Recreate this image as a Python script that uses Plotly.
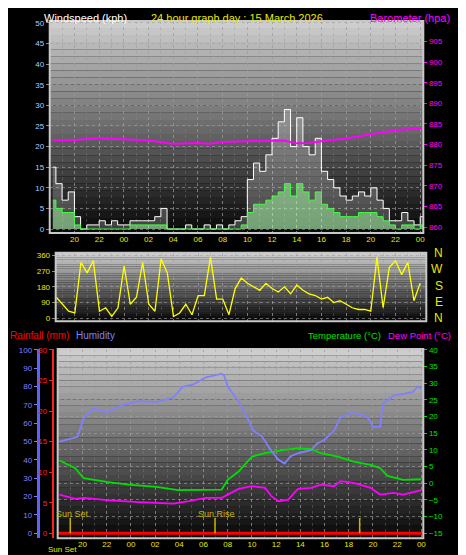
import plotly.graph_objects as go

# ---------------- data ----------------
wind_t = [18.25,18.5,19,19.5,20,20.5,21,21.5,22,22.5,23,23.5,24,24.5,25,25.5,26,26.5,27,27.5,28,28.5,29,29.5,30,30.5,31,31.5,32,32.5,33,33.5,34,34.5,35,35.5,36,36.5,37,37.5,38,38.5,39,39.5,40,40.5,41,41.5,42,42.5,43,43.5,44,44.5,45,45.5,46,46.5,47,47.5,48,48.25]
gust = [15,11,7,9,3,0,1,1,2,1,2,1,1,2,2,2,2,3,5,0,0,0,1,0,0,1,0,1,0,1,2,3,12,16,14,18,22,26,29,20,27,20,18,22,14,12,10,8,7,8,9,8,10,7,5,2,2,4,2,1,3,3]
avg = [7,5,4,4,1,0,0,0,0,0,0,0,0,1,1,1,1,1,1,0,0,0,0,0,0,0,0,0,0,0,0,1,4,6,6,7,8,9,11,8,11,9,7,9,6,5,4,3,3,3,4,4,4,3,2,1,0,1,1,0,1,1]
baro_t = [18.25,20,22,24,26,28,30,31,32,34,36,37,38,39,40,42,44,46,48,48.25]
baro = [881,881.1,881.6,881.3,881,880.2,880.4,880.2,880.6,880.8,880.9,881,880.3,880.4,880.8,881.5,882.5,883.5,884,884]
dir_t = [18.5,19,19.5,20,20.5,21,21.5,22,22.5,23,23.5,24,24.5,25,25.5,26,26.5,27,27.5,28,28.5,29,29.5,30,30.5,31,31.5,32,32.5,33,33.5,34,34.5,35,35.5,36,36.5,37,37.5,38,38.5,39,39.5,40,40.5,41,41.5,42,42.5,43,43.5,44,44.5,45,45.5,46,46.5,47,47.5,48]
wdir = [120,80,40,30,320,260,330,40,60,10,60,300,80,120,320,80,40,340,260,10,30,80,20,130,130,350,110,110,20,170,230,200,180,160,200,170,150,180,140,190,160,140,130,110,120,90,100,80,60,50,50,40,350,60,290,330,250,320,100,200]
hum_t = [18.1,19.6,20.1,20.9,22,23.3,24.7,26.1,27.5,28.3,29.1,30.2,31.5,31.7,32.0,32.9,33.7,34.1,34.8,35.6,36.2,36.7,37.2,37.8,38.9,39.4,40.0,40.8,41.3,42.2,43.0,43.6,44.0,44.6,44.8,45.7,46.5,47.3,47.7,48.0]
hum = [50,52.6,63,68,66,70,72,71.5,74,80,81,85,87,86,80,72,62,56,53,45,40,38,42,43.6,45.4,49,51,56,63,65.6,65,63,58,58,70.6,75,76,77,80,79]
th_t = [18.1,19.4,20.1,22,23.8,26.1,27.9,30.2,31.5,32.0,32.9,34.0,35.1,36.7,37.8,38.9,39.7,41.1,42.4,43.8,44.6,45.2,46.5,48.0]
temp = [6.8,4.5,1.5,0.4,-0.4,-1.1,-2.1,-2.1,-1.9,1,3.5,8,9,10,10.5,10.2,9,8,6.5,5.5,4.5,2.2,1,1.2]
dew_t = [18.1,19.4,20.1,22,24.7,27.5,28.8,30.2,31.5,32.0,32.9,34.0,35.1,35.6,36.2,37.0,37.8,38.9,39.7,40.8,41.3,42.4,43.8,44.6,45.7,46.5,48.0]
dew = [-3.4,-4.7,-4.4,-5.1,-5.7,-6.1,-5.4,-4.4,-4.4,-3.4,-1.7,-0.9,-1.4,-3.9,-5.4,-4.9,-1.7,-1.4,-0.4,-0.9,0.6,0.1,-1.4,-3.4,-2.9,-3.4,-2.1]
rain_t = [18.0, 48.2]
rain = [0, 0]
sun_t = [18.99, 30.95, 42.9]
xticks = [20,22,24,26,28,30,32,34,36,38,40,42,44,46,48]
xlabels = ["20","22","00","02","04","06","08","10","12","14","16","18","20","22","00"]

W, H = 466, 555
def px(x): return x / W
def py(y): return 1 - y / H

panels = [(42, 418, 10, 224), (48, 421, 244, 313), (50, 418, 341, 532)]
FONT = "Liberation Sans"
YEL = "#e8e800"

fig = go.Figure()
fig.add_trace(go.Scatter(x=wind_t, y=gust, mode="lines", line=dict(color="white", width=1, shape="hv"),
                         fill="tozeroy", fillcolor="rgba(255,255,255,0.22)", xaxis="x", yaxis="y"))
fig.add_trace(go.Scatter(x=wind_t, y=avg, mode="lines", line=dict(color="#40ff40", width=1, shape="hv"),
                         fill="tozeroy", fillcolor="rgba(170,255,170,0.5)", xaxis="x", yaxis="y"))
fig.add_trace(go.Scatter(x=baro_t, y=baro, mode="lines", line=dict(color="#ff00ff", width=2), xaxis="x", yaxis="y2"))
fig.add_trace(go.Scatter(x=dir_t, y=wdir, mode="lines", line=dict(color="#ffff00", width=1.3), xaxis="x2", yaxis="y3"))
fig.add_trace(go.Scatter(x=hum_t, y=hum, mode="lines", line=dict(color="#8080ff", width=1.8), xaxis="x3", yaxis="y5"))
fig.add_trace(go.Scatter(x=th_t, y=temp, mode="lines", line=dict(color="#00e000", width=1.8), xaxis="x3", yaxis="y4"))
fig.add_trace(go.Scatter(x=dew_t, y=dew, mode="lines", line=dict(color="#ff00ff", width=1.8), xaxis="x3", yaxis="y4"))
fig.add_trace(go.Scatter(x=rain_t, y=rain, mode="lines", line=dict(color="#ff0000", width=3), xaxis="x3", yaxis="y6"))
for st in sun_t:
    fig.add_trace(go.Scatter(x=[st, st], y=[0, 2.5], mode="lines", line=dict(color="#c8b400", width=1.5), xaxis="x3", yaxis="y6"))

shapes = []
for (x0, x1, y0, y1) in panels:
    n = 30
    for i in range(n):
        g = int(205 - 195 * i / (n - 1))
        shapes.append(dict(type="rect", xref="paper", yref="paper", layer="below", line=dict(width=0),
                           x0=px(x0), x1=px(x1), y0=py(y0 + (y1 - y0) * (i + 1) / n), y1=py(y0 + (y1 - y0) * i / n),
                           fillcolor=f"rgb({g},{g},{g})"))
    shapes.append(dict(type="rect", xref="paper", yref="paper", layer="above", line=dict(color="#c8c8c8", width=2),
                       x0=px(x0), x1=px(x1), y0=py(y1), y1=py(y0)))

grid = dict(showgrid=True, gridcolor="rgba(160,160,160,0.6)", griddash="dot", gridwidth=1, zeroline=False)
tickf = dict(family=FONT, size=8)

def xax(dom, rng, showlabels=True):
    return dict(domain=dom, range=rng, tickvals=xticks, ticktext=xlabels, showticklabels=showlabels,
                tickfont=dict(tickf, color=YEL), ticks="", **grid,
                minor=dict(dtick=1, showgrid=True, gridcolor="rgba(140,140,140,0.35)", griddash="dot"))

fig.update_layout(
    width=W, height=H, margin=dict(l=0, r=0, t=0, b=0), paper_bgcolor="black", plot_bgcolor="rgba(0,0,0,0)",
    showlegend=False, shapes=shapes, font=dict(family=FONT),
    xaxis=xax([px(42), px(418)], [18.0, 48.25]),
    yaxis=dict(domain=[py(224), py(10)], range=[-0.96, 50.48], dtick=5, tickfont=dict(tickf, color="#a8d0ff"),
               ticks="outside", ticklen=3, tickcolor="#888", **grid),
    yaxis2=dict(overlaying="y", side="right", range=[858.56, 910], tickvals=list(range(860, 910, 5)),
                tickfont=dict(tickf, color="#ff00ff"),
                showgrid=False, zeroline=False, ticks="outside", ticklen=3, tickcolor="#ff00ff", anchor="x"),
    xaxis2=xax([px(48), px(421)], [18.45, 48.5], showlabels=False),
    yaxis3=dict(domain=[py(313), py(244)], range=[-17, 375], tickvals=[0, 90, 180, 270, 360], anchor="x2",
                tickfont=dict(tickf, color=YEL), ticks="outside", ticklen=3, tickcolor="#888", **grid),
    xaxis3=dict(xax([px(50), px(418)], [17.95, 48.16]), anchor="y4"),
    yaxis4=dict(domain=[py(532), py(341)], range=[-16.5, 40.3], dtick=5, side="right", anchor="x3",
                tickfont=dict(tickf, color="#00e000"), ticks="outside", ticklen=3, tickcolor="#00e000",
                showline=True, linecolor="#00c000", **grid),
    yaxis5=dict(overlaying="y4", range=[-2.7, 100.5], dtick=10, anchor="free", position=px(30), side="left",
                tickfont=dict(tickf, color="#8080ff"), ticks="outside", ticklen=3, tickcolor="#8080ff",
                showline=True, linecolor="#6060ff", linewidth=3, showgrid=False, zeroline=False),
    yaxis6=dict(overlaying="y4", range=[-0.81, 30.16], dtick=5, anchor="free", position=px(45), side="left",
                tickfont=dict(tickf, color="#ff2020"), ticks="outside", ticklen=3, tickcolor="#ff2020",
                showline=True, linecolor="#ff2020", linewidth=2, showgrid=False, zeroline=False),
)

ann = [
    ("Windspeed (kph)", 34, 7, "white", "left", 11),
    ("24 hour graph day : 15 March 2026", 230, 7, YEL, "center", 11),
    ("Barometer (hpa)", 447, 7, "#ff00ff", "right", 11),
    ("Rainfall (mm)", 0, 327, "#ff0000", "left", 10),
    ("Humidity", 66, 327, "#8080ff", "left", 10),
    ("Temperature (°C)", 300, 327, "#00e000", "left", 9.5),
    ("Dew Point (°C)", 380, 327, "#ff00ff", "left", 9.5),
    ("Sun Set", 46, 508, "#c8b400", "left", 9),
    ("Sun Rise", 189, 508, "#c8b400", "left", 9),
    ("Sun Set", 38, 543, YEL, "left", 8),
]
annotations = []
for txt, x, y, c, al, s in ann:
    annotations.append(dict(text=txt, x=px(x), y=py(y), xref="paper", yref="paper", showarrow=False,
                            xanchor=al, yanchor="middle", font=dict(family=FONT, size=s, color=c)))
for i, d in enumerate(["N", "W", "S", "E", "N"]):
    annotations.append(dict(text=d, x=px(440), y=py(244 + i * 16.5), xref="paper", yref="paper", showarrow=False,
                            font=dict(family=FONT, size=12, color=YEL)))
fig.update_layout(annotations=annotations)
fig.write_html("out.html")
